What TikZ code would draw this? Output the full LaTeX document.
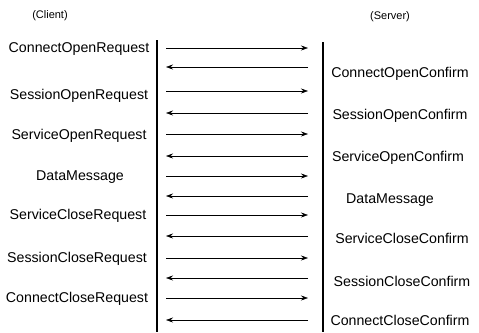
\documentclass[tikz,border=0pt]{standalone}
\usepackage{fontspec}
\setmainfont{Liberation Sans}
\usetikzlibrary{arrows.meta}

\tikzset{
  lbl/.style = {font=\fontsize{14.2}{16}\selectfont, inner sep=0pt},
  hdr/.style = {font=\fontsize{11}{13}\selectfont, inner sep=0pt},
  msg/.style = {line width=0.6pt, -{Stealth[length=7pt,width=5pt]}},
  lifeline/.style = {line width=2.2pt},
}

\begin{document}
\begin{tikzpicture}[x=1pt, y=-1pt]%
    \useasboundingbox (0,0) rectangle (479,332);
    % headers
    \node[hdr] (client) at (50,16) {(Client)};
    \node[hdr] (server) at (390,17) {(Server)};
    % life lines
    \coordinate (ctop) at (157,40);
    \coordinate (cbot) at (157,332);
    \coordinate (stop) at (323,42);
    \coordinate (sbot) at (323,332);
    \draw[lifeline] (ctop) -- (cbot);
    \draw[lifeline] (stop) -- (sbot);
    % message end points
    \coordinate (c1) at (166,48);  \coordinate (s1) at (308,48);
    \coordinate (c2) at (166,67);  \coordinate (s2) at (308,67);
    \coordinate (c3) at (166,91);  \coordinate (s3) at (308,91);
    \coordinate (c4) at (166,113); \coordinate (s4) at (308,113);
    \coordinate (c5) at (166,134); \coordinate (s5) at (308,134);
    \coordinate (c6) at (166,156); \coordinate (s6) at (308,156);
    \coordinate (c7) at (166,176); \coordinate (s7) at (308,176);
    \coordinate (c8) at (166,196); \coordinate (s8) at (308,196);
    \coordinate (c9) at (166,215); \coordinate (s9) at (308,215);
    \coordinate (c10) at (166,236); \coordinate (s10) at (308,236);
    \coordinate (c11) at (166,258); \coordinate (s11) at (308,258);
    \coordinate (c12) at (166,278); \coordinate (s12) at (308,278);
    \coordinate (c13) at (166,298); \coordinate (s13) at (308,298);
    \coordinate (c14) at (166,320); \coordinate (s14) at (308,320);
    % client side
    \node[lbl] (cor) at (79,49) {ConnectOpenRequest};
    \node[lbl] (sor) at (79,96) {SessionOpenRequest};
    \node[lbl] (vor) at (79,136) {ServiceOpenRequest};
    \node[lbl] (dmc) at (80,177) {DataMessage};
    \node[lbl] (vcr) at (78,216) {ServiceCloseRequest};
    \node[lbl] (scr) at (77,259) {SessionCloseRequest};
    \node[lbl] (ccr) at (77,299) {ConnectCloseRequest};
    % server side
    \node[lbl] (coc) at (400,74) {ConnectOpenConfirm};
    \node[lbl] (soc) at (400,116) {SessionOpenConfirm};
    \node[lbl] (voc) at (398,158) {ServiceOpenConfirm};
    \node[lbl] (dms) at (390,200) {DataMessage};
    \node[lbl] (vcc) at (402,238) {ServiceCloseConfirm};
    \node[lbl] (scc) at (402,281) {SessionCloseConfirm};
    \node[lbl] (ccc) at (400,320) {ConnectCloseConfirm};
    % messages
    \draw[msg] (c1) -- (s1);
    \draw[msg] (s2) -- (c2);
    \draw[msg] (c3) -- (s3);
    \draw[msg] (s4) -- (c4);
    \draw[msg] (c5) -- (s5);
    \draw[msg] (s6) -- (c6);
    \draw[msg] (c7) -- (s7);
    \draw[msg] (s8) -- (c8);
    \draw[msg] (c9) -- (s9);
    \draw[msg] (s10) -- (c10);
    \draw[msg] (c11) -- (s11);
    \draw[msg] (s12) -- (c12);
    \draw[msg] (c13) -- (s13);
    \draw[msg] (s14) -- (c14);
\end{tikzpicture}
\end{document}
